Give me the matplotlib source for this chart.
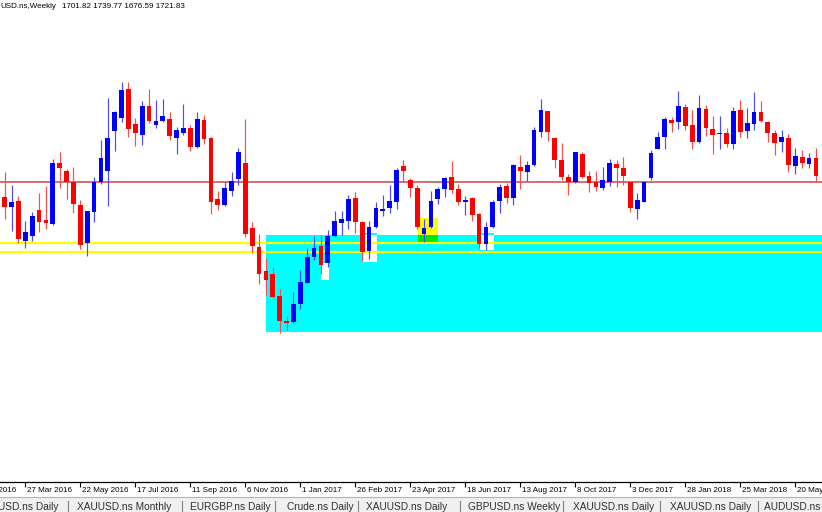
import matplotlib
matplotlib.use("Agg")
import matplotlib.pyplot as plt
from matplotlib.patches import Rectangle
from matplotlib.transforms import blended_transform_factory

W, H = 822, 512

# ---------------- data (weekly candles, index 0 = week of 6 Mar 2016) ----------------
opens = [
    1260.3, 1250.3, 1256.0, 1216.3, 1221.0, 1247.0, 1236.7, 1233.0, 1293.7, 1285.7,
    1275.0, 1252.0, 1214.3, 1245.3, 1275.0, 1286.5, 1326.3, 1339.3, 1368.0, 1332.8,
    1322.0, 1351.0, 1332.0, 1336.3, 1338.3, 1319.3, 1324.3, 1328.7, 1309.7, 1337.3,
    1319.3, 1258.0, 1252.0, 1266.0, 1278.0, 1294.0, 1229.3, 1209.7, 1186.3, 1183.0,
    1161.3, 1136.3, 1135.3, 1153.0, 1174.3, 1200.3, 1211.3, 1193.7, 1221.0, 1233.7,
    1236.0, 1258.7, 1234.7, 1206.0, 1229.7, 1246.0, 1249.3, 1254.7, 1291.3, 1277.0,
    1268.7, 1222.7, 1229.7, 1258.0, 1268.0, 1280.3, 1268.0, 1254.7, 1258.7, 1242.7,
    1213.0, 1229.7, 1256.0, 1271.0, 1259.3, 1290.3, 1285.3, 1292.0, 1325.3, 1346.0,
    1319.3, 1297.0, 1280.3, 1274.7, 1302.7, 1281.3, 1274.7, 1269.3, 1275.3, 1292.7,
    1289.3, 1274.7, 1248.0, 1254.7, 1278.7, 1307.7, 1320.3, 1337.0, 1334.7, 1350.0,
    1332.0, 1314.7, 1348.0, 1328.0, 1323.0, 1324.3, 1313.0, 1346.7, 1326.3, 1332.7,
    1344.7, 1334.7, 1323.7, 1315.3, 1318.7, 1291.3, 1300.3, 1292.7, 1299.3]
highs = [
    1284.7, 1272.0, 1261.3, 1236.3, 1245.3, 1264.3, 1271.0, 1298.0, 1304.7, 1287.7,
    1290.0, 1257.0, 1246.0, 1279.7, 1316.7, 1358.7, 1346.0, 1375.0, 1375.0, 1338.7,
    1356.3, 1367.7, 1357.0, 1358.0, 1344.7, 1330.3, 1353.0, 1332.0, 1344.7, 1342.0,
    1320.3, 1266.0, 1274.7, 1285.3, 1309.3, 1338.3, 1234.7, 1222.7, 1198.7, 1190.3,
    1168.0, 1141.3, 1165.3, 1187.0, 1208.7, 1221.0, 1222.0, 1227.0, 1246.0, 1246.0,
    1262.0, 1265.3, 1236.3, 1236.0, 1254.7, 1262.0, 1272.0, 1288.7, 1297.0, 1279.3,
    1272.0, 1237.7, 1266.3, 1270.3, 1280.3, 1296.3, 1272.7, 1261.0, 1260.3, 1244.3,
    1234.7, 1257.0, 1272.7, 1273.7, 1293.0, 1302.0, 1296.3, 1329.7, 1357.8, 1346.5,
    1320.3, 1313.7, 1282.7, 1305.3, 1305.3, 1286.0, 1286.0, 1290.0, 1298.0, 1297.0,
    1300.3, 1275.3, 1263.7, 1276.0, 1307.0, 1325.3, 1339.7, 1340.3, 1366.3, 1352.7,
    1347.0, 1362.0, 1352.0, 1341.3, 1341.0, 1329.3, 1350.3, 1357.0, 1348.7, 1364.7,
    1356.0, 1336.0, 1327.0, 1327.0, 1322.7, 1309.3, 1307.0, 1303.7, 1309.3]
lows = [
    1237.7, 1226.3, 1213.7, 1208.7, 1216.3, 1224.7, 1228.0, 1232.0, 1269.3, 1257.7,
    1244.3, 1208.3, 1201.5, 1235.3, 1273.0, 1251.3, 1305.7, 1335.0, 1320.3, 1311.0,
    1312.0, 1334.3, 1329.3, 1335.3, 1317.0, 1302.7, 1322.0, 1306.3, 1308.7, 1313.3,
    1242.7, 1247.0, 1251.3, 1261.3, 1272.0, 1220.3, 1203.7, 1172.7, 1162.0, 1158.7,
    1124.3, 1127.0, 1134.3, 1147.7, 1173.7, 1197.0, 1182.7, 1190.3, 1219.7, 1222.0,
    1227.7, 1223.7, 1196.3, 1197.7, 1228.7, 1241.3, 1244.3, 1247.7, 1275.3, 1260.3,
    1227.7, 1215.3, 1229.3, 1253.0, 1260.3, 1264.3, 1252.0, 1242.0, 1236.3, 1208.7,
    1207.0, 1228.7, 1244.3, 1253.7, 1252.0, 1267.7, 1276.3, 1291.0, 1320.3, 1316.0,
    1288.7, 1277.0, 1262.0, 1274.3, 1279.3, 1264.7, 1266.0, 1267.0, 1271.0, 1270.3,
    1272.0, 1244.7, 1238.0, 1254.7, 1277.0, 1307.7, 1308.0, 1325.3, 1328.0, 1327.0,
    1307.7, 1313.7, 1321.3, 1303.0, 1307.7, 1309.7, 1307.7, 1320.3, 1319.3, 1327.0,
    1335.3, 1314.7, 1302.0, 1304.7, 1284.7, 1282.7, 1289.3, 1289.3, 1274.7]
closes = [
    1250.3, 1254.7, 1217.7, 1225.3, 1241.0, 1235.0, 1234.0, 1294.3, 1289.0, 1274.7,
    1253.0, 1211.7, 1246.0, 1275.0, 1299.3, 1319.0, 1344.8, 1366.7, 1328.5, 1323.7,
    1351.0, 1336.3, 1335.7, 1340.7, 1321.0, 1327.0, 1328.7, 1310.3, 1338.3, 1317.7,
    1255.3, 1252.0, 1268.7, 1276.0, 1305.3, 1223.0, 1211.3, 1183.0, 1177.0, 1160.3,
    1136.3, 1133.7, 1153.0, 1175.3, 1200.3, 1209.3, 1192.0, 1221.0, 1236.0, 1237.7,
    1258.0, 1234.7, 1205.3, 1230.3, 1249.3, 1248.0, 1256.3, 1287.0, 1286.0, 1269.3,
    1230.3, 1229.3, 1256.0, 1268.0, 1279.3, 1267.0, 1254.7, 1257.0, 1242.0, 1213.0,
    1230.3, 1255.3, 1270.3, 1258.7, 1292.0, 1286.3, 1292.0, 1327.0, 1347.0, 1325.3,
    1297.0, 1280.3, 1274.7, 1304.7, 1280.3, 1273.7, 1270.3, 1277.0, 1294.3, 1288.7,
    1281.3, 1248.7, 1257.0, 1275.3, 1303.7, 1320.3, 1338.0, 1334.3, 1351.0, 1331.3,
    1315.3, 1349.3, 1328.7, 1322.0, 1324.3, 1313.0, 1346.0, 1324.7, 1333.7, 1344.7,
    1336.0, 1323.7, 1314.3, 1319.7, 1292.0, 1301.0, 1293.7, 1299.3, 1281.3]

tick_index = [-5, 3, 11, 19, 27, 35, 43, 51, 59, 67, 75, 83, 91, 99, 107, 115]
tick_labels = ["31 Jan 2016", "27 Mar 2016", "22 May 2016", "17 Jul 2016", "11 Sep 2016",
               "6 Nov 2016", "1 Jan 2017", "26 Feb 2017", "23 Apr 2017", "18 Jun 2017",
               "13 Aug 2017", "8 Oct 2017", "3 Dec 2017", "28 Jan 2018", "25 Mar 2018",
               "20 May 2018"]

header_symbol = "USD.ns,Weekly"
header_ohlc = "1701.82 1739.77 1676.59 1721.83"

red_level = 1275.0
yellow_levels = [1214.5, 1205.5]
zone_start, zone_low, zone_high = 38.0, 1125.5, 1222.0
yellow_box = (60.15, 63.05, 1215.3, 1238.7)
white_boxes = [(46.0, 47.1, 1177.0, 1194.0),
               (52.1, 54.1, 1195.3, 1223.7),
               (69.1, 71.1, 1207.0, 1223.7)]

tabs = ["USD.ns Daily", "XAUUSD.ns Monthly", "EURGBP.ns Daily", "Crude.ns Daily",
        "XAUUSD.ns Daily", "GBPUSD.ns Weekly", "XAUUSD.ns Daily", "XAUUSD.ns Daily",
        "AUDUSD.ns Tick"]
tab_x = [-2, 77, 190, 287, 366, 468, 573, 670, 764]
tab_sep_x = [68, 182, 275, 358, 460, 563, 660, 758]

n = len(opens)
assert n == len(highs) == len(lows) == len(closes)

# ---------------- figure ----------------
FONT = "Liberation Sans"
fig = plt.figure(figsize=(W / 100, H / 100), dpi=100)
fig.patch.set_facecolor("white")

ax_bottom_px = 482
ax = fig.add_axes([0, (H - ax_bottom_px) / H, 1, ax_bottom_px / H])
ax.set_facecolor("white")
x_left = (0 - 4.7) / 6.875
x_right = (W - 4.7) / 6.875
ax.set_xlim(x_left, x_right)
ax.set_ylim(1457 - ax_bottom_px, 1457)

for s in ["top", "left", "right"]:
    ax.spines[s].set_visible(False)
ax.spines["bottom"].set_color("black")
ax.spines["bottom"].set_linewidth(0.9)
ax.set_yticks([])
ax.set_xticks([t for t in tick_index if t >= 0])
ax.tick_params(axis="x", direction="out", length=3.6, width=0.8, colors="black",
               labelbottom=False)

# zone and boxes
ax.add_patch(Rectangle((zone_start, zone_low), x_right + 5 - zone_start, zone_high - zone_low,
                       facecolor="#00ffff", edgecolor="none", zorder=1))
x0, x1, lo, hi = yellow_box
ax.add_patch(Rectangle((x0, lo), x1 - x0, hi - lo, facecolor="#ffff00", edgecolor="none", zorder=1.5))
ax.add_patch(Rectangle((x0, lo), x1 - x0, zone_high - lo, facecolor="#00e600", edgecolor="none", zorder=1.6))
for (b0, b1, blo, bhi) in white_boxes:
    top_in = min(bhi, zone_high)
    ax.add_patch(Rectangle((b0, blo), b1 - b0, top_in - blo, facecolor="white",
                           edgecolor="none", zorder=1.5))
    if bhi > zone_high:
        ax.add_patch(Rectangle((b0, zone_high), b1 - b0, bhi - zone_high,
                               facecolor="#00ffff", edgecolor="none", zorder=1.5))

# horizontal levels
for lv in yellow_levels:
    ax.axhline(lv, color="#ffff00", lw=1.6, zorder=2)
ax.axhline(red_level, color="#c84646", lw=1.1, zorder=2)

# candles
body_w = 0.68
for i in range(n):
    o, h, l, c = opens[i], highs[i], lows[i], closes[i]
    up = c >= o
    col = "#0000ff" if up else "#ff0000"
    wcol = "#4a4aff" if up else "#ff4a4a"
    ax.vlines(i, l, h, color=wcol, lw=0.85, zorder=3)
    bot = min(o, c)
    ht = max(abs(c - o), 1.2)
    ax.add_patch(Rectangle((i - body_w / 2, bot), body_w, ht, facecolor=col,
                           edgecolor="none", zorder=4))

# date labels
tr = blended_transform_factory(ax.transData, fig.transFigure)
for t, lab in zip(tick_index, tick_labels):
    ax.text(t + 0.2, 1 - 486.5 / H, lab, transform=tr, ha="left", va="top",
            fontsize=5.8, family=FONT, color="black", clip_on=False)

# header
fig.text(0, 1 - 2.5 / H, header_symbol, ha="left", va="top", fontsize=5.8, family=FONT, color="black")
fig.text(62 / W, 1 - 2.5 / H, header_ohlc, ha="left", va="top", fontsize=5.8, family=FONT, color="black")

# tab bar
fig.patches.append(Rectangle((0, 0), 1, (H - 497) / H, transform=fig.transFigure,
                             facecolor="#f0f0f0", edgecolor="none", zorder=0))
fig.add_artist(plt.Line2D([0, 1], [(H - 497) / H] * 2, transform=fig.transFigure,
                          color="#b4b4b4", lw=0.8))
for tx, name in zip(tab_x, tabs):
    fig.text(tx / W, 1 - 502 / H, name, ha="left", va="top", fontsize=7.3,
             family=FONT, color="#303030")
for sx in tab_sep_x:
    fig.add_artist(plt.Line2D([sx / W, sx / W], [0, (H - 501) / H], transform=fig.transFigure,
                              color="#808080", lw=0.8))

fig.savefig("out.png", dpi=100)
